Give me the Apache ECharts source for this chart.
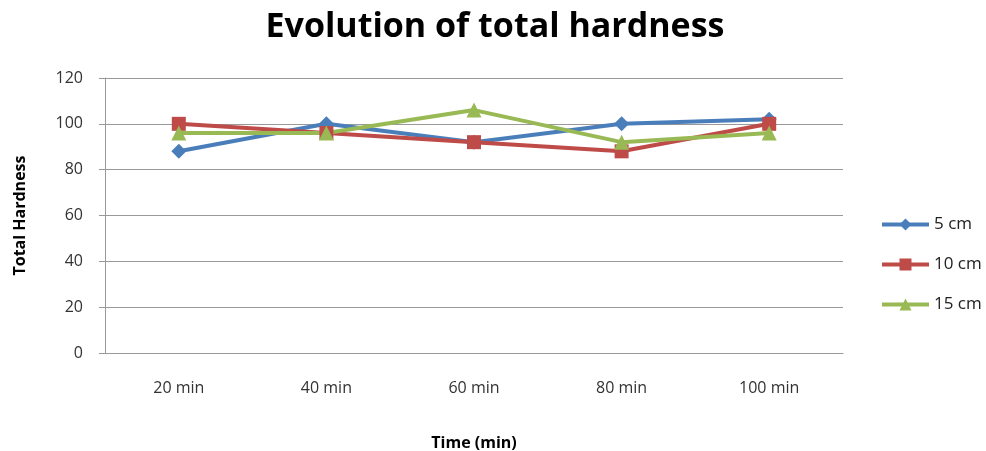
<!DOCTYPE html>
<html><head><meta charset="utf-8">
<script src="https://cdn.jsdelivr.net/npm/echarts@6/dist/echarts.min.js"></script>
<style>html,body{margin:0;padding:0;background:#fff}#c{width:986px;height:451px}</style>
</head><body><div id="c"></div>
<script>
const categories = ['20 min','40 min','60 min','80 min','100 min'];
const s5 = [88, 100, 92, 100, 102];
const s10 = [100, 96, 92, 88, 100];
const s15 = [96, 96, 106, 92, 96];
const names = ['5 cm','10 cm','15 cm'];

const chart = echarts.init(document.getElementById('c'));
const font = '"Open Sans", "Liberation Sans", sans-serif';
function ser(name, data, color, symbol, size){
  return {name, type:'line', data, symbol, symbolSize:size,
    lineStyle:{color, width:4}, itemStyle:{color}, emphasis:{disabled:true}};
}
chart.setOption({
  animation:false,
  textStyle:{fontFamily:font},
  title:{text:'Evolution of total hardness', left:490, textAlign:'center', top:5,
    textStyle:{fontSize:34, fontWeight:'bold', color:'#000', fontFamily:font}},
  grid:{left:105, right:143, top:78, bottom:98, outerBoundsMode:'none', containLabel:false},
  legend:{orient:'vertical', left:875, top:211, itemGap:23, itemWidth:47, itemHeight:15,
    lineStyle:{width:4},
    textStyle:{fontSize:17, color:'#222', fontFamily:font},
    data:names},
  xAxis:{type:'category', data:categories, boundaryGap:true,
    name:'Time (min)', nameLocation:'middle', nameGap:82,
    nameTextStyle:{fontSize:16, fontWeight:'bold', color:'#000'},
    axisLine:{lineStyle:{color:'#999'}}, axisTick:{show:false},
    axisLabel:{fontSize:16, color:'#333', margin:27}},
  yAxis:{type:'value', min:0, max:120, interval:20,
    name:'Total Hardness', nameLocation:'middle', nameGap:77, nameRotate:90,
    nameTextStyle:{fontSize:16, fontWeight:'bold', color:'#000'},
    axisLine:{show:true, lineStyle:{color:'#999'}},
    axisTick:{show:true, inside:false, length:6, lineStyle:{color:'#999'}},
    splitLine:{lineStyle:{color:'#999'}},
    axisLabel:{fontSize:16, color:'#333', margin:22}},
  series:[
    ser(names[0], s5, '#4A7EBB', 'diamond', 15),
    ser(names[1], s10, '#BE4B48', 'rect', 14),
    ser(names[2], s15, '#98B954', 'triangle', 15)
  ]
});
</script></body></html>
